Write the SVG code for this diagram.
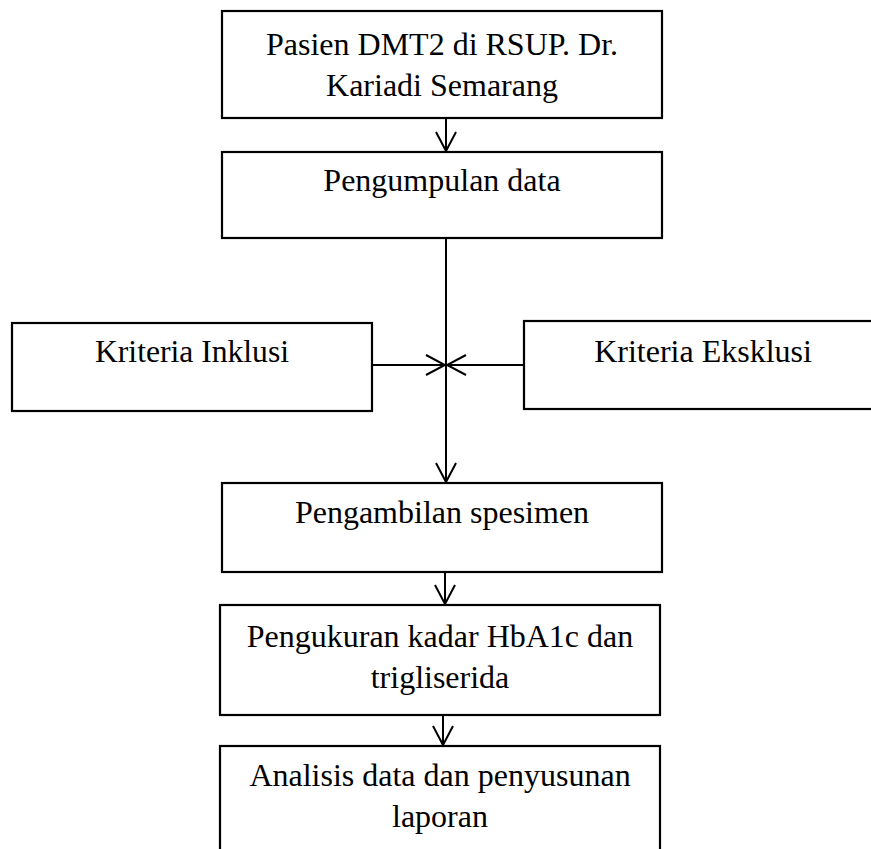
<svg xmlns="http://www.w3.org/2000/svg" width="871" height="849" viewBox="0 0 871 849">
<style>
.box{fill:#fff;stroke:#000;stroke-width:2.2}
.t{font-family:"Liberation Serif","Times New Roman",serif;font-size:32px;fill:#000;text-anchor:middle}
.c{stroke:#000;stroke-width:2;fill:none}
</style>
<defs>
<marker id="ah" viewBox="-22 -12 24 24" refX="0" refY="0" markerWidth="24" markerHeight="24" markerUnits="userSpaceOnUse" orient="auto">
<path d="M -19 -10 L 0 0 L -19 10" fill="none" stroke="#000" stroke-width="2"/>
</marker>
</defs>
<rect width="871" height="849" fill="#fff"/>
<g id="connectors">
<line class="c" x1="446" y1="118" x2="446" y2="151" marker-end="url(#ah)"/>
<line class="c" x1="446" y1="238" x2="446" y2="482" marker-end="url(#ah)"/>
<line class="c" x1="372" y1="365" x2="445" y2="365" marker-end="url(#ah)"/>
<line class="c" x1="524" y1="365" x2="447" y2="365" marker-end="url(#ah)"/>
<line class="c" x1="445" y1="572" x2="445" y2="604" marker-end="url(#ah)"/>
<line class="c" x1="443" y1="715" x2="443" y2="745" marker-end="url(#ah)"/>
</g>
<g id="n1">
<rect class="box" x="222" y="11" width="440" height="107"/>
<text class="t" x="442" y="55">Pasien DMT2 di RSUP. Dr.</text>
<text class="t" x="442" y="96">Kariadi Semarang</text>
</g>
<g id="n2">
<rect class="box" x="222" y="152" width="440" height="86"/>
<text class="t" x="442" y="191">Pengumpulan data</text>
</g>
<g id="n3">
<rect class="box" x="12" y="323" width="360" height="88"/>
<text class="t" x="192" y="362" textLength="194" lengthAdjust="spacingAndGlyphs">Kriteria Inklusi</text>
</g>
<g id="n4">
<rect class="box" x="524" y="321" width="358" height="88"/>
<text class="t" x="703" y="362">Kriteria Eksklusi</text>
</g>
<g id="n5">
<rect class="box" x="222" y="483" width="440" height="89"/>
<text class="t" x="442" y="523">Pengambilan spesimen</text>
</g>
<g id="n6">
<rect class="box" x="220" y="605" width="440" height="110"/>
<text class="t" x="440" y="647">Pengukuran kadar HbA1c dan</text>
<text class="t" x="440" y="688">trigliserida</text>
</g>
<g id="n7">
<rect class="box" x="220" y="746" width="440" height="110"/>
<text class="t" x="440" y="786">Analisis data dan penyusunan</text>
<text class="t" x="440" y="827">laporan</text>
</g>
</svg>
